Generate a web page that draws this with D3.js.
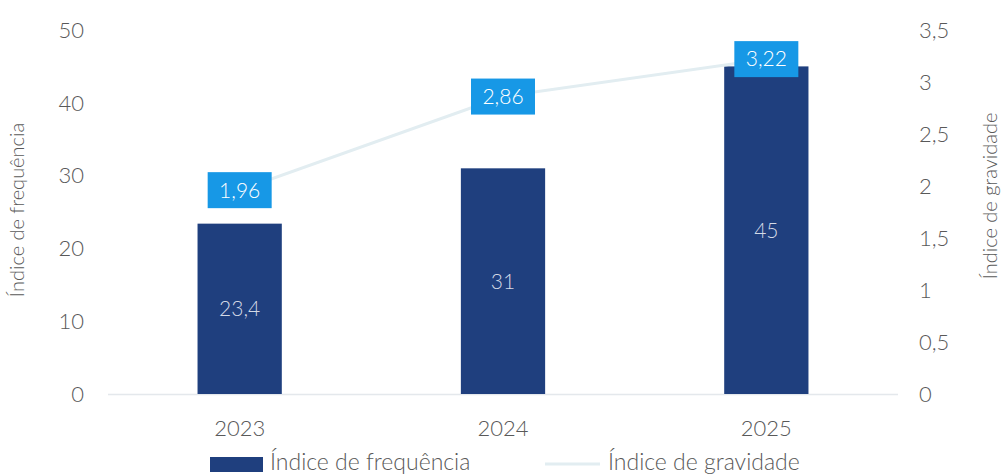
<!DOCTYPE html>
<html>
<head>
<meta charset="utf-8">
<script src="https://cdn.jsdelivr.net/npm/d3@7"></script>
<style>
  body { margin: 0; background: #fff; }
  text { font-family: Lato, "Open Sans", sans-serif; font-weight: 300; fill: #595959; }
</style>
</head>
<body>
<script>
// data
var years = ["2023", "2024", "2025"];
var frequencia = [23.4, 31, 45];
var gravidade = [1.96, 2.86, 3.22];
var leftTicks = [0, 10, 20, 30, 40, 50];
var rightTicks = [0, 0.5, 1, 1.5, 2, 2.5, 3, 3.5];

var W = 1003, H = 474;
var plot = {left: 108, right: 898, top: 30, bottom: 394};

var svg = d3.select("body").append("svg")
    .attr("width", W)
    .attr("height", H);

var fmt = function(v) { return String(v).replace(".", ","); };

// scales
var x = d3.scaleBand()
    .domain(years)
    .range([plot.left, plot.right])
    .paddingInner(0.68)
    .paddingOuter(0.34);
var yL = d3.scaleLinear().domain([0, 50]).range([plot.bottom, plot.top]);
var yR = d3.scaleLinear().domain([0, 3.5]).range([plot.bottom, plot.top]);

// baseline
svg.append("line")
    .attr("x1", plot.left).attr("x2", plot.right)
    .attr("y1", plot.bottom + 0.5).attr("y2", plot.bottom + 0.5)
    .attr("stroke", "#e4e8ec").attr("stroke-width", 1.5);

// left axis labels
svg.append("g").selectAll("text")
    .data(leftTicks).enter().append("text")
    .attr("x", 84)
    .attr("y", function(d) { return yL(d); })
    .attr("dy", "0.35em")
    .attr("text-anchor", "end")
    .style("font-size", "22px")
    .text(function(d) { return d; });

// right axis labels
svg.append("g").selectAll("text")
    .data(rightTicks).enter().append("text")
    .attr("x", 919)
    .attr("y", function(d) { return yR(d); })
    .attr("dy", "0.35em")
    .attr("text-anchor", "start")
    .style("font-size", "22px")
    .text(function(d) { return fmt(d); });

// axis titles
svg.append("text")
    .attr("transform", "translate(24,210) rotate(-90)")
    .attr("text-anchor", "middle")
    .style("font-size", "20px")
    .text("Índice de frequência");
svg.append("text")
    .attr("transform", "translate(997,196) rotate(-90)")
    .attr("text-anchor", "middle")
    .style("font-size", "20px")
    .text("Índice de gravidade");

// x labels
svg.append("g").selectAll("text")
    .data(years).enter().append("text")
    .attr("x", function(d) { return x(d) + x.bandwidth() / 2; })
    .attr("y", 428)
    .attr("dy", "0.35em")
    .attr("text-anchor", "middle")
    .style("font-size", "22px")
    .text(function(d) { return d; });

// bars
svg.append("g").selectAll("rect")
    .data(frequencia).enter().append("rect")
    .attr("x", function(d, i) { return x(years[i]); })
    .attr("width", x.bandwidth())
    .attr("y", function(d) { return yL(d); })
    .attr("height", function(d) { return yL(0) - yL(d); })
    .attr("fill", "#1f3f7e");

svg.append("g").selectAll("text")
    .data(frequencia).enter().append("text")
    .attr("x", function(d, i) { return x(years[i]) + x.bandwidth() / 2; })
    .attr("y", function(d) { return (yL(d) + yL(0)) / 2; })
    .attr("dy", "0.35em")
    .attr("text-anchor", "middle")
    .style("font-size", "21px")
    .style("fill", "#d4dae6")
    .text(function(d) { return fmt(d); });

// line
var line = d3.line()
    .x(function(d, i) { return x(years[i]) + x.bandwidth() / 2; })
    .y(function(d) { return yR(d); });
svg.append("path")
    .datum(gravidade)
    .attr("d", line)
    .attr("fill", "none")
    .attr("stroke", "#e2edf1")
    .attr("stroke-width", 3);

// line labels
var lab = svg.append("g").selectAll("g")
    .data(gravidade).enter().append("g")
    .attr("transform", function(d, i) {
        return "translate(" + (x(years[i]) + x.bandwidth() / 2) + "," + yR(d) + ")";
    });
lab.append("rect")
    .attr("x", -32).attr("y", -18)
    .attr("width", 64).attr("height", 36)
    .attr("fill", "#1798e6");
lab.append("text")
    .attr("dy", "0.35em")
    .attr("text-anchor", "middle")
    .style("font-size", "21px")
    .style("fill", "#ffffff")
    .text(function(d) { return fmt(d); });

// legend
svg.append("rect")
    .attr("x", 210).attr("y", 457)
    .attr("width", 53).attr("height", 15)
    .attr("fill", "#1f3f7e");
svg.append("text")
    .attr("x", 270).attr("y", 462)
    .attr("dy", "0.35em")
    .style("font-size", "23px")
    .text("Índice de frequência");
svg.append("line")
    .attr("x1", 545).attr("x2", 600)
    .attr("y1", 464).attr("y2", 464)
    .attr("stroke", "#e2edf1").attr("stroke-width", 3);
svg.append("text")
    .attr("x", 608).attr("y", 462)
    .attr("dy", "0.35em")
    .style("font-size", "23px")
    .text("Índice de gravidade");
</script>
</body>
</html>
